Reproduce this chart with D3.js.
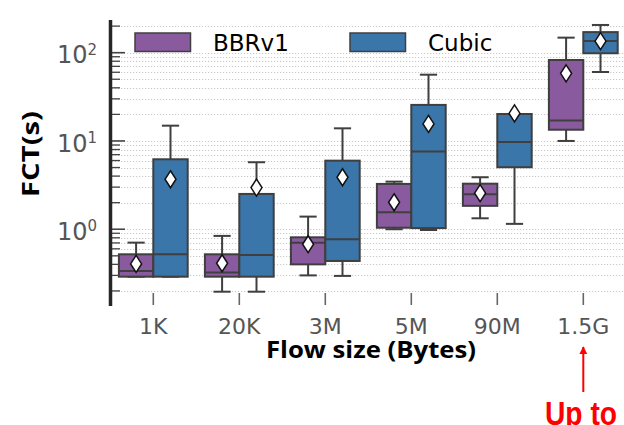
<!DOCTYPE html>
<html>
<head>
<meta charset="utf-8">
<script src="https://cdn.jsdelivr.net/npm/d3@7"></script>
<style>
  html, body { margin: 0; padding: 0; background: #fff; }
  svg { display: block; }
</style>
</head>
<body>
<div id="chart"></div>
<script>
// ---- data ----
const categories = ["1K", "20K", "3M", "5M", "90M", "1.5G"];
const seriesNames = ["BBRv1", "Cubic"];

// BBRv1 box statistics per category
const bbrLow    = [0.29, 0.196, 0.30, 1.00, 1.33, 10.0];
const bbrQ1     = [0.29, 0.29, 0.40, 1.04, 1.84, 13.4];
const bbrMedian = [0.337, 0.323, 0.705, 1.56, 2.49, 17.0];
const bbrQ3     = [0.52, 0.52, 0.81, 3.26, 3.28, 82.6];
const bbrHigh   = [0.705, 0.84, 1.39, 3.46, 3.88, 148];
const bbrMean   = [0.405, 0.412, 0.676, 2.02, 2.56, 58.4];

// Cubic box statistics per category
const cubicLow    = [0.29, 0.196, 0.296, 0.98, 1.15, 60.4];
const cubicQ1     = [0.29, 0.29, 0.437, 1.03, 5.04, 98.5];
const cubicMedian = [0.52, 0.51, 0.77, 7.57, 9.75, 136];
const cubicQ3     = [6.2, 2.51, 5.98, 25.6, 20.2, 171];
const cubicHigh   = [14.9, 5.74, 13.9, 56.3, 20.2, 206];
const cubicMean   = [3.68, 2.96, 3.88, 15.6, 20.5, 135];

const yMajorTicks = [1, 10, 100];
const yMajorLabels = [["10", "0"], ["10", "1"], ["10", "2"]];

// ---- build ----
const W = 624, H = 425;
const colors = { "BBRv1": "#8a5a9e", "Cubic": "#3a76aa" };
const edge = "#3f3f3f";

const svg = d3.select("#chart").append("svg")
  .attr("width", W).attr("height", H);

const x = d3.scaleBand().domain(categories).range([110.3, 626.3]).padding(0);
const hue = d3.scaleBand().domain(seriesNames).range([0.1, 0.9]).padding(0);
const y = d3.scaleLog().domain([0.135, 234.5]).range([306, 20]);

// minor + major tick values
const allTicks = [];
[-1, 0, 1, 2].forEach(d => {
  for (let k = 1; k <= 9; k++) {
    const v = k * Math.pow(10, d);
    if (v >= y.domain()[0] && v <= y.domain()[1]) allTicks.push(v);
  }
});

// gridlines
svg.append("g").selectAll("line").data(allTicks).join("line")
  .attr("x1", 112).attr("x2", W)
  .attr("y1", d => Math.round(y(d)) + 0.5).attr("y2", d => Math.round(y(d)) + 0.5)
  .attr("stroke", "#c8c8c8").attr("stroke-width", 1)
  .attr("stroke-dasharray", "1.2,1.8");

// series data
const series = [
  { name: "BBRv1", low: bbrLow, q1: bbrQ1, med: bbrMedian, q3: bbrQ3, high: bbrHigh, mean: bbrMean },
  { name: "Cubic", low: cubicLow, q1: cubicQ1, med: cubicMedian, q3: cubicQ3, high: cubicHigh, mean: cubicMean }
];

const bw = x.bandwidth() * hue.bandwidth();
series.forEach(s => {
  const g = svg.append("g");
  categories.forEach((c, i) => {
    const x0 = x(c) + x.bandwidth() * hue(s.name);
    const xc = x0 + bw / 2;
    // whiskers
    g.append("line").attr("x1", xc).attr("x2", xc)
      .attr("y1", y(s.q3[i])).attr("y2", y(s.high[i]))
      .attr("stroke", edge).attr("stroke-width", 2);
    g.append("line").attr("x1", xc).attr("x2", xc)
      .attr("y1", y(s.q1[i])).attr("y2", y(s.low[i]))
      .attr("stroke", edge).attr("stroke-width", 2);
    // caps
    [s.high[i], s.low[i]].forEach(v => {
      g.append("line").attr("x1", xc - bw / 4).attr("x2", xc + bw / 4)
        .attr("y1", y(v)).attr("y2", y(v))
        .attr("stroke", edge).attr("stroke-width", 2);
    });
    // box
    g.append("rect")
      .attr("x", x0).attr("width", bw)
      .attr("y", y(s.q3[i])).attr("height", Math.max(0.5, y(s.q1[i]) - y(s.q3[i])))
      .attr("fill", colors[s.name]).attr("stroke", edge).attr("stroke-width", 2);
    // median
    g.append("line").attr("x1", x0).attr("x2", x0 + bw)
      .attr("y1", y(s.med[i])).attr("y2", y(s.med[i]))
      .attr("stroke", edge).attr("stroke-width", 2);
    // mean diamond
    const my = y(s.mean[i]);
    g.append("path")
      .attr("d", `M${xc},${my - 8.5} L${xc + 5.5},${my} L${xc},${my + 8.5} L${xc - 5.5},${my} Z`)
      .attr("fill", "#fff").attr("stroke", "#111").attr("stroke-width", 1.5);
  });
});

// y axis spine
svg.append("line").attr("x1", 110.5).attr("x2", 110.5).attr("y1", 20).attr("y2", 306)
  .attr("stroke", "#262626").attr("stroke-width", 3.5);

// y ticks (inside)
svg.append("g").selectAll("line").data(allTicks).join("line")
  .attr("x1", 112).attr("x2", d => yMajorTicks.includes(d) ? 125 : 120)
  .attr("y1", d => y(d)).attr("y2", d => y(d))
  .attr("stroke", "#444").attr("stroke-width", d => yMajorTicks.includes(d) ? 1.6 : 1.3);

// y tick labels
const yl = svg.append("g").selectAll("text").data(yMajorTicks).join("text")
  .attr("x", 97).attr("y", d => y(d) + 10.6)
  .attr("text-anchor", "end")
  .attr("font-family", "DejaVu Sans").attr("font-size", 24).attr("fill", "#555");
yl.append("tspan").text((d, i) => yMajorLabels[i][0]);
yl.append("tspan").attr("dy", -8.5).attr("font-size", 15).text((d, i) => yMajorLabels[i][1]);

// x ticks
svg.append("g").selectAll("line").data(categories).join("line")
  .attr("x1", d => x(d) + x.bandwidth() / 2).attr("x2", d => x(d) + x.bandwidth() / 2)
  .attr("y1", 293).attr("y2", 305)
  .attr("stroke", "#666").attr("stroke-width", 1.6);
svg.append("g").selectAll("text").data(categories).join("text")
  .attr("x", d => x(d) + x.bandwidth() / 2).attr("y", 334)
  .attr("text-anchor", "middle")
  .attr("font-family", "DejaVu Sans").attr("font-size", 22).attr("fill", "#555")
  .text(d => d);

// axis titles
svg.append("text").attr("x", 371).attr("y", 357.5).attr("text-anchor", "middle")
  .attr("font-family", "Open Sans").attr("font-weight", "bold").attr("font-size", 22.5)
  .attr("textLength", 210).attr("lengthAdjust", "spacingAndGlyphs")
  .attr("fill", "#000").text("Flow size (Bytes)");
svg.append("text").attr("transform", "translate(39,154) rotate(-90)")
  .attr("text-anchor", "middle")
  .attr("font-family", "Open Sans").attr("font-weight", "bold").attr("font-size", 23)
  .attr("textLength", 86).attr("lengthAdjust", "spacingAndGlyphs")
  .attr("fill", "#000").text("FCT(s)");

// legend
const legendX = [135, 350];
seriesNames.forEach((n, i) => {
  svg.append("rect").attr("x", legendX[i]).attr("y", 33).attr("width", 55.5).attr("height", 18.5)
    .attr("fill", colors[n]).attr("stroke", edge).attr("stroke-width", 1.5);
  svg.append("text").attr("x", legendX[i] + 78).attr("y", 51)
    .attr("font-family", "DejaVu Sans").attr("font-size", 23).attr("fill", "#000").text(n);
});

// annotation arrow + text
const ax = x("1.5G") + x.bandwidth() / 2;
svg.append("defs").append("marker").attr("id", "ah")
  .attr("viewBox", "0 0 10 10").attr("refX", 9).attr("refY", 5)
  .attr("markerWidth", 4).attr("markerHeight", 4.5).attr("orient", "auto")
  .append("path").attr("d", "M0,0 L10,5 L0,10 Z").attr("fill", "#ff0000");
svg.append("line").attr("x1", ax).attr("x2", ax).attr("y1", 392).attr("y2", 347)
  .attr("stroke", "#ff0000").attr("stroke-width", 2).attr("marker-end", "url(#ah)");
svg.append("text").attr("x", 545).attr("y", 424.5).attr("text-anchor", "start")
  .attr("font-family", "'Liberation Sans', Arial, sans-serif")
  .attr("font-weight", "bold").attr("font-size", 33)
  .attr("textLength", 72).attr("lengthAdjust", "spacingAndGlyphs")
  .attr("fill", "#ff0000").text("Up to");
</script>
</body>
</html>
